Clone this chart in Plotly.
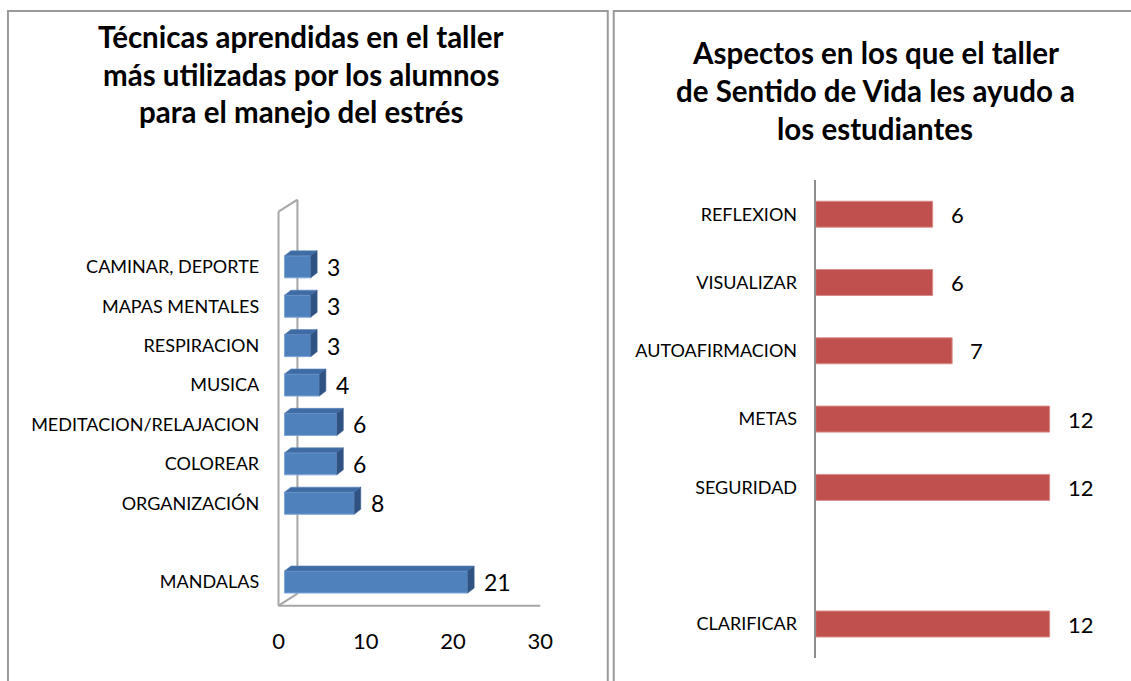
import plotly.graph_objects as go

# ---- data ----
tecnicas = ["MANDALAS", "", "ORGANIZACIÓN", "COLOREAR", "MEDITACION/RELAJACION",
            "MUSICA", "RESPIRACION", "MAPAS MENTALES", "CAMINAR, DEPORTE"]
tec_vals = [21, None, 8, 6, 6, 4, 3, 3, 3]
tec_ticks = [0, 10, 20, 30]

aspectos = ["CLARIFICAR", "", "SEGURIDAD", "METAS", "AUTOAFIRMACION", "VISUALIZAR", "REFLEXION"]
asp_vals = [12, None, 12, 12, 7, 6, 6]

title_left = ["Técnicas aprendidas en el taller", "más utilizadas por los alumnos",
              "para el manejo del estrés"]
title_right = ["Aspectos en los que el taller", "de Sentido de Vida les ayudo a",
               "los estudiantes"]

W, H = 1131, 681
FONT = "Lato"
BLUE, BLUE_TOP, BLUE_SIDE = "#4F81BD", "#3E6BA4", "#2F5283"
RED = "#C0504D"
GRID = "#A6A6A6"

def pxx(p):
    return p / W

def pxy(p):
    return 1 - p / H

# left axis geometry (front plane): 0 -> 278px, 8.77 px per unit ; slot 0 centre at 582px, 39.4 px pitch
lx0, lunit, ly0, lpitch = 278, 8.77, 582, 39.4
lxr, lyr = [-0.5, 31], [-0.8, 9.8]
# right axis geometry
rx0, runit, ry0, rpitch = 818, 19.6, 624, 68.3
rxr, ryr = [0, 15], [-0.5, 6.5]

tec_idx = list(range(len(tecnicas)))
asp_idx = list(range(len(aspectos)))

base = 6 / lunit          # bar front face sits behind front plane
ddx, ddy = 6.5 / lunit, 5 / lpitch   # depth of the 3d bars
wall_dx, wall_dy = 19 / lunit, 12 / lpitch
bw = 0.56

fig = go.Figure()
fig.add_trace(go.Bar(
    y=tec_idx, x=tec_vals, base=base, orientation="h", width=bw,
    marker=dict(color=BLUE, line=dict(color="#7FA6D6", width=1)),
    xaxis="x", yaxis="y", hoverinfo="skip",
))
fig.add_trace(go.Bar(
    y=asp_idx, x=asp_vals, orientation="h", width=0.38,
    marker=dict(color=RED, line=dict(color="#D98C8A", width=1)),
    xaxis="x2", yaxis="y2", hoverinfo="skip",
))

shapes = []
annotations = []

# 3d faces of blue bars
for i, v in zip(tec_idx, tec_vals):
    if v is None:
        continue
    x1 = base + v
    yt, yb = i + bw / 2, i - bw / 2
    top = f"M{base},{yt} L{x1},{yt} L{x1 + ddx},{yt + ddy} L{base + ddx},{yt + ddy} Z"
    side = f"M{x1},{yb} L{x1},{yt} L{x1 + ddx},{yt + ddy} L{x1 + ddx},{yb + ddy} Z"
    shapes.append(dict(type="path", path=top, xref="x", yref="y", fillcolor=BLUE_TOP,
                       line=dict(color="#5A86BE", width=0.6)))
    shapes.append(dict(type="path", path=side, xref="x", yref="y", fillcolor=BLUE_SIDE,
                       line=dict(color="#3B5F8F", width=0.6)))
    annotations.append(dict(x=x1 + ddx, y=i, xref="x", yref="y", text=str(v), showarrow=False,
                            xanchor="left", xshift=8, font=dict(size=23, color="black", family=FONT)))

# walls of the 3d chart
ybot, ytop = -0.6, 9.4
for seg in [((0, ybot), (30, ybot)), ((0, ybot), (0, ytop)),
            ((0, ytop), (wall_dx, ytop + wall_dy)), ((0, ybot), (wall_dx, ybot + wall_dy)),
            ((wall_dx, ybot + wall_dy), (wall_dx, ytop + wall_dy))]:
    (xa, ya), (xb, yb_) = seg
    shapes.append(dict(type="line", x0=xa, y0=ya, x1=xb, y1=yb_, xref="x", yref="y",
                       layer="below", line=dict(color=GRID, width=2)))

# red bar labels
for i, v in zip(asp_idx, asp_vals):
    if v is None:
        continue
    annotations.append(dict(x=v, y=i, xref="x2", yref="y2", text=str(v), showarrow=False,
                            xanchor="left", xshift=16, font=dict(size=22, color="black", family=FONT)))

# titles
for k, line in enumerate(title_left):
    annotations.append(dict(x=pxx(301), y=pxy(37 + 37.5 * k), xref="paper", yref="paper",
                            xanchor="center", yanchor="middle",
                            text=f"<b>{line}</b>", showarrow=False,
                            font=dict(size=29.5, color="black", family=FONT)))
for k, line in enumerate(title_right):
    annotations.append(dict(x=pxx(878), y=pxy(52 + 38 * k), xref="paper", yref="paper",
                            xanchor="center", yanchor="middle",
                            text=f"<b>{line}</b>", showarrow=False,
                            font=dict(size=29.5, color="black", family=FONT)))

# panel frames
shapes.append(dict(type="rect", xref="paper", yref="paper", x0=pxx(6), x1=pxx(609),
                   y0=pxy(700), y1=pxy(11), line=dict(color="#999999", width=2), layer="below"))
shapes.append(dict(type="rect", xref="paper", yref="paper", x0=pxx(615), x1=pxx(1140),
                   y0=pxy(700), y1=pxy(11), line=dict(color="#999999", width=2), layer="below"))

fig.update_layout(
    width=W, height=H, margin=dict(l=0, r=0, t=0, b=0),
    paper_bgcolor="white", plot_bgcolor="rgba(0,0,0,0)",
    showlegend=False, barmode="overlay",
    font=dict(family=FONT, color="black"),
    shapes=shapes, annotations=annotations,
    xaxis=dict(domain=[pxx(lx0 + lxr[0] * lunit), pxx(lx0 + lxr[1] * lunit)], range=lxr,
               tickvals=tec_ticks, showgrid=False, zeroline=False, showline=False,
               ticks="", tickfont=dict(size=22), ticklabelstandoff=12, anchor="y"),
    yaxis=dict(domain=[pxy(ly0 - lyr[0] * lpitch), pxy(ly0 - lyr[1] * lpitch)], range=lyr,
               tickvals=tec_idx, ticktext=tecnicas, showgrid=False, zeroline=False,
               showline=False, ticks="", tickfont=dict(size=18), ticklabelstandoff=14,
               anchor="x"),
    xaxis2=dict(domain=[pxx(rx0 + rxr[0] * runit), pxx(rx0 + rxr[1] * runit)], range=rxr,
                showgrid=False, zeroline=False, showline=False, showticklabels=False,
                ticks="", anchor="y2"),
    yaxis2=dict(domain=[pxy(ry0 - ryr[0] * rpitch), pxy(ry0 - ryr[1] * rpitch)], range=ryr,
                tickvals=asp_idx, ticktext=aspectos, showgrid=False, zeroline=False,
                showline=True, linecolor="#8C8C8C", linewidth=2, ticks="",
                tickfont=dict(size=18), ticklabelstandoff=13, anchor="x2"),
)

# drop the browser's default 8px body margin so the figure sits at the page corner
fig.write_html("out.html", config={"displayModeBar": False},
               post_script="document.body.style.margin='0';")
